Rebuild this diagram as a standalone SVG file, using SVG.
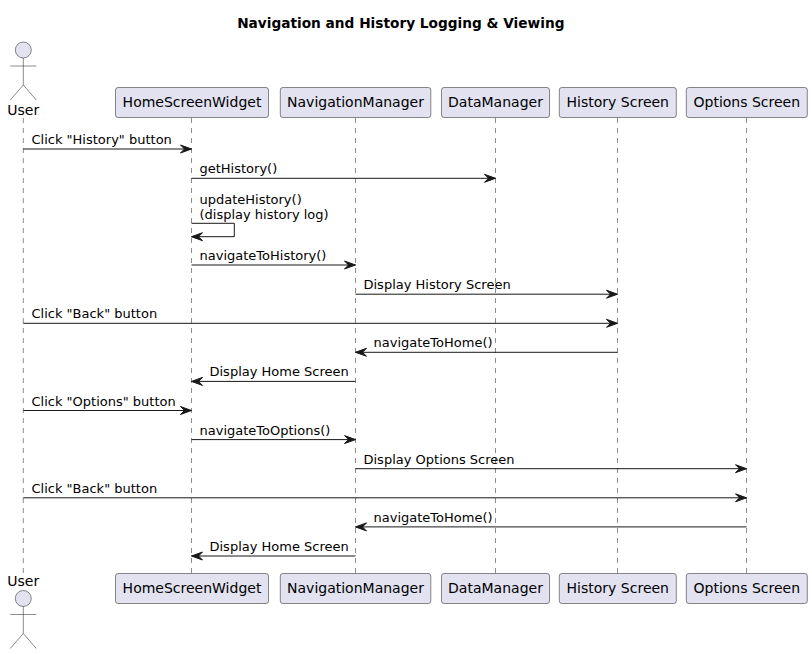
<svg xmlns="http://www.w3.org/2000/svg" width="812" height="654" viewBox="0 0 812 654">
<style>
text{font-family:"DejaVu Sans","Liberation Sans",sans-serif;fill:#000}
.title{font-size:13.7px;font-weight:bold}
.pname{font-size:14px;text-anchor:middle}
.aname{font-size:14px;text-anchor:middle}
.msg{font-size:13px}
.box{fill:#E2E2F0;stroke:#181818;stroke-width:0.5}
.life{stroke:#181818;stroke-width:0.5;stroke-dasharray:5,5;fill:none}
.actor{fill:#E2E2F0;stroke:#181818;stroke-width:0.5}
.aline{stroke:#181818;stroke-width:0.5;fill:none}
.arr{stroke:#181818;stroke-width:1;fill:none;marker-end:url(#ah)}
</style>
<defs>
<marker id="ah" markerUnits="userSpaceOnUse" markerWidth="14" markerHeight="11" refX="11" refY="4" orient="auto" viewBox="-1.5 -1.5 14 11">
<path d="M0,0 L11,4 L0,8 L4,4 Z" fill="#181818" stroke="#181818" stroke-width="1" stroke-linejoin="miter"/>
</marker>
</defs>
<rect width="812" height="654" fill="#fff"/>
<text class="title" x="400.8" y="27.5" text-anchor="middle">Navigation and History Logging &amp; Viewing</text>

<g id="lifelines">
<line class="life" x1="23.3" y1="118" x2="23.3" y2="573"/>
<line class="life" x1="191.5" y1="118" x2="191.5" y2="573"/>
<line class="life" x1="355.5" y1="118" x2="355.5" y2="573"/>
<line class="life" x1="495.5" y1="118" x2="495.5" y2="573"/>
<line class="life" x1="617.5" y1="118" x2="617.5" y2="573"/>
<line class="life" x1="746.5" y1="118" x2="746.5" y2="573"/>
</g>

<g id="User">
<circle class="actor" cx="23.3" cy="50" r="8"/>
<path class="aline" d="M23.3,58 V85 M10.3,66 H36.3 M23.3,85 L10.3,100 M23.3,85 L36.3,100"/>
<text class="aname" x="23.3" y="115">User</text>
<text class="aname" x="23.3" y="586">User</text>
<circle class="actor" cx="23.3" cy="598.5" r="8"/>
<path class="aline" d="M23.3,606.5 V633.5 M10.3,614.5 H36.3 M23.3,633.5 L10.3,648.5 M23.3,633.5 L36.3,648.5"/>
</g>
<g id="HomeScreenWidget">
<rect class="box" x="115.5" y="87.5" width="153" height="30" rx="2.5"/>
<text class="pname" x="192" y="107">HomeScreenWidget</text>
<rect class="box" x="115.5" y="573.5" width="153" height="30" rx="2.5"/>
<text class="pname" x="192" y="593">HomeScreenWidget</text>
</g>
<g id="NavigationManager">
<rect class="box" x="280.3" y="87.5" width="150.5" height="30" rx="2.5"/>
<text class="pname" x="355.5" y="107">NavigationManager</text>
<rect class="box" x="280.3" y="573.5" width="150.5" height="30" rx="2.5"/>
<text class="pname" x="355.5" y="593">NavigationManager</text>
</g>
<g id="DataManager">
<rect class="box" x="441.5" y="87.5" width="108" height="30" rx="2.5"/>
<text class="pname" x="495.5" y="107">DataManager</text>
<rect class="box" x="441.5" y="573.5" width="108" height="30" rx="2.5"/>
<text class="pname" x="495.5" y="593">DataManager</text>
</g>
<g id="HistoryScreen">
<rect class="box" x="559.3" y="87.5" width="117" height="30" rx="2.5"/>
<text class="pname" x="617.8" y="107">History Screen</text>
<rect class="box" x="559.3" y="573.5" width="117" height="30" rx="2.5"/>
<text class="pname" x="617.8" y="593">History Screen</text>
</g>
<g id="OptionsScreen">
<rect class="box" x="686.3" y="87.5" width="121" height="30" rx="2.5"/>
<text class="pname" x="746.8" y="107">Options Screen</text>
<rect class="box" x="686.3" y="573.5" width="121" height="30" rx="2.5"/>
<text class="pname" x="746.8" y="593">Options Screen</text>
</g>

<g id="connectors">
<line class="arr" x1="23.3" y1="149" x2="191.5" y2="149"/>
<text class="msg" x="31.5" y="144">Click "History" button</text>
<line class="arr" x1="191.5" y1="178.3" x2="495.5" y2="178.3"/>
<text class="msg" x="199.5" y="173.3">getHistory()</text>
<path class="arr" d="M191.5,223.3 H234.3 V236.7 H191.5"/>
<text class="msg" x="199.5" y="203.5">updateHistory()</text>
<text class="msg" x="199.5" y="218.5">(display history log)</text>
<line class="arr" x1="191.5" y1="265" x2="355.5" y2="265"/>
<text class="msg" x="199.5" y="260">navigateToHistory()</text>
<line class="arr" x1="355.5" y1="294.2" x2="617.5" y2="294.2"/>
<text class="msg" x="363.5" y="289.2">Display History Screen</text>
<line class="arr" x1="23.3" y1="323.3" x2="617.5" y2="323.3"/>
<text class="msg" x="31.5" y="318.3">Click "Back" button</text>
<line class="arr" x1="617.5" y1="352.3" x2="355.5" y2="352.3"/>
<text class="msg" x="373.5" y="347.3">navigateToHome()</text>
<line class="arr" x1="355.5" y1="381.4" x2="191.5" y2="381.4"/>
<text class="msg" x="209.5" y="376.4">Display Home Screen</text>
<line class="arr" x1="23.3" y1="410.5" x2="191.5" y2="410.5"/>
<text class="msg" x="31.5" y="405.5">Click "Options" button</text>
<line class="arr" x1="191.5" y1="439.6" x2="355.5" y2="439.6"/>
<text class="msg" x="199.5" y="434.6">navigateToOptions()</text>
<line class="arr" x1="355.5" y1="468.7" x2="746.5" y2="468.7"/>
<text class="msg" x="363.5" y="463.7">Display Options Screen</text>
<line class="arr" x1="23.3" y1="497.8" x2="746.5" y2="497.8"/>
<text class="msg" x="31.5" y="492.8">Click "Back" button</text>
<line class="arr" x1="746.5" y1="526.9" x2="355.5" y2="526.9"/>
<text class="msg" x="373.5" y="521.9">navigateToHome()</text>
<line class="arr" x1="355.5" y1="556" x2="191.5" y2="556"/>
<text class="msg" x="209.5" y="551">Display Home Screen</text>
</g>
</svg>
